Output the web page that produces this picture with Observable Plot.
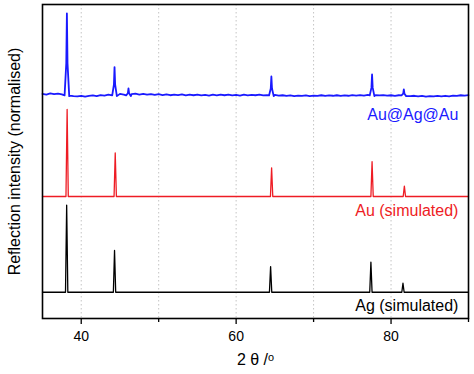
<!DOCTYPE html>
<html>
<head>
<meta charset="utf-8">
<script src="https://cdn.jsdelivr.net/npm/d3@7"></script>
<script src="https://cdn.jsdelivr.net/npm/@observablehq/plot@0.6"></script>
<style>
  html, body { margin: 0; padding: 0; background: #fff; }
  #chart svg { display: block; }
</style>
</head>
<body>
<div id="chart"></div>
<script>
// ---- data (2θ in degrees, normalised intensity) ----
const seriesNames = ["Au@Ag@Au", "Au (simulated)", "Ag (simulated)"];
const seriesColors = ["#1a1aff", "#ee1c24", "#000000"];
const seriesOffsets = [2.25, 1.10, 0.0];

// simulated Ag
const agPeaks = [38.12, 44.30, 64.45, 77.40, 81.54];
const agHeights = [1.00, 0.48, 0.295, 0.345, 0.103];
// simulated Au
const auPeaks = [38.18, 44.39, 64.58, 77.55, 81.72];
const auHeights = [1.00, 0.50, 0.33, 0.40, 0.12];
// measured Au@Ag@Au peaks
const expPeaks = [38.15, 44.30, 46.10, 64.55, 77.55, 81.65];
const expHeights = [0.954, 0.337, 0.092, 0.23, 0.253, 0.08];
// measured Au@Ag@Au background, sampled every 0.5° from 35° to 90°
const expStart = 35, expStep = 0.5;
const expBackground = [
  0.030, 0.022, 0.035, 0.026, 0.033, 0.024, 0.030, 0.010, 0.004, 0.000,
  0.008, -0.002, 0.006, 0.012, 0.004, 0.016, 0.010, 0.020, 0.014, 0.020,
  0.030, 0.022, 0.024, 0.026, 0.032, 0.022, 0.030, 0.020, 0.028, 0.018,
  0.026, 0.016, 0.024, 0.014, 0.022, 0.016, 0.024, 0.012, 0.020, 0.014,
  0.022, 0.012, 0.018, 0.010, 0.020, 0.012, 0.022, 0.014, 0.020, 0.012,
  0.018, 0.010, 0.020, 0.012, 0.018, 0.014, 0.020, 0.012, 0.016, 0.016,
  0.018, 0.010, 0.014, 0.006, 0.012, 0.004, 0.010, 0.006, 0.012, 0.004,
  0.010, 0.006, 0.014, 0.006, 0.012, 0.008, 0.014, 0.006, 0.012, 0.008,
  0.016, 0.010, 0.016, 0.010, 0.018, 0.016, 0.016, 0.012, 0.016, 0.010,
  0.014, 0.008, 0.014, 0.010, 0.010, 0.004, 0.008, 0.000, 0.006, -0.002,
  0.004, 0.000, 0.006, 0.000, 0.008, 0.002, 0.010, 0.006, 0.014, 0.010,
  0.016
];
const xTicksMajor = [40, 60, 80];
const xTicksMinor = [50, 70, 90];
const xGrid = [40, 50, 60, 70, 80];
const xLabel = "2 θ /ᵒ";
const yLabel = "Reflection intensity (normalised)";

// ---- build traces ----
function simTrace(peaks, heights, offset, series) {
  const pts = [{x: 35, y: offset, series}];
  peaks.forEach((p, i) => {
    pts.push({x: p - 0.15, y: offset, series});
    pts.push({x: p, y: offset + heights[i], series});
    pts.push({x: p + 0.15, y: offset, series});
  });
  pts.push({x: 90, y: offset, series});
  return pts;
}
function expTrace(offset, series) {
  const pts = [];
  expBackground.forEach((v, i) => {
    const x = expStart + i * expStep;
    if (expPeaks.some(p => Math.abs(x - p) < 0.35)) return;
    pts.push({x, y: offset + v, series});
  });
  expPeaks.forEach((p, i) => {
    const h = expHeights[i];
    pts.push({x: p - 0.3, y: offset + 0.012, series});
    pts.push({x: p - 0.08, y: offset + 0.4 * h, series});
    pts.push({x: p, y: offset + h, series});
    pts.push({x: p + 0.08, y: offset + 0.4 * h, series});
    pts.push({x: p + 0.3, y: offset + 0.004, series});
  });
  pts.sort((a, b) => a.x - b.x);
  return pts;
}
const traces = [
  expTrace(seriesOffsets[0], seriesNames[0]),
  simTrace(auPeaks, auHeights, seriesOffsets[1], seriesNames[1]),
  simTrace(agPeaks, agHeights, seriesOffsets[2], seriesNames[2])
];
const labels = seriesNames.map((name, i) => ({
  name, color: seriesColors[i], x: 88.7, y: seriesOffsets[i] - 0.21 + (i === 0 ? 0.003 : i === 1 ? 0.04 : 0.05)
}));

const plot = Plot.plot({
  width: 474,
  height: 374,
  marginTop: 4,
  marginBottom: 56,
  marginLeft: 42,
  marginRight: 6,
  style: {fontFamily: "'Liberation Sans', Arial, sans-serif", fontSize: "14px", background: "#fff", color: "#000"},
  x: {domain: [35, 90]},
  y: {domain: [-0.302, 3.307], axis: null},
  marks: [
    Plot.gridX(xGrid, {stroke: "#c4c4c4", strokeOpacity: 1, strokeDasharray: "1.5,2.5", strokeWidth: 1}),
    ...traces.map((t, i) => Plot.line(t, {x: "x", y: "y", stroke: seriesColors[i], strokeWidth: i === 0 ? 1.8 : 1.3})),
    Plot.text(labels, {x: "x", y: "y", text: "name", fill: "color", textAnchor: "end", fontSize: 16}),
    Plot.frame({stroke: "#000", strokeWidth: 1.6}),
    Plot.axisX({ticks: xTicksMajor, tickSize: 6, tickPadding: 7, label: null, fontSize: 14, stroke: "#000", strokeWidth: 1.3}),
    Plot.axisX({ticks: xTicksMinor, tickSize: 4, tickFormat: () => "", label: null, stroke: "#000", strokeWidth: 1.3}),
    Plot.text([xLabel], {frameAnchor: "bottom", dy: 41, fontSize: 16, textAnchor: "middle", lineAnchor: "middle"}),
    Plot.text([yLabel], {frameAnchor: "left", dx: -28, rotate: -90, fontSize: 16, textAnchor: "middle", lineAnchor: "middle"})
  ]
});
document.getElementById("chart").appendChild(plot);
</script>
</body>
</html>
